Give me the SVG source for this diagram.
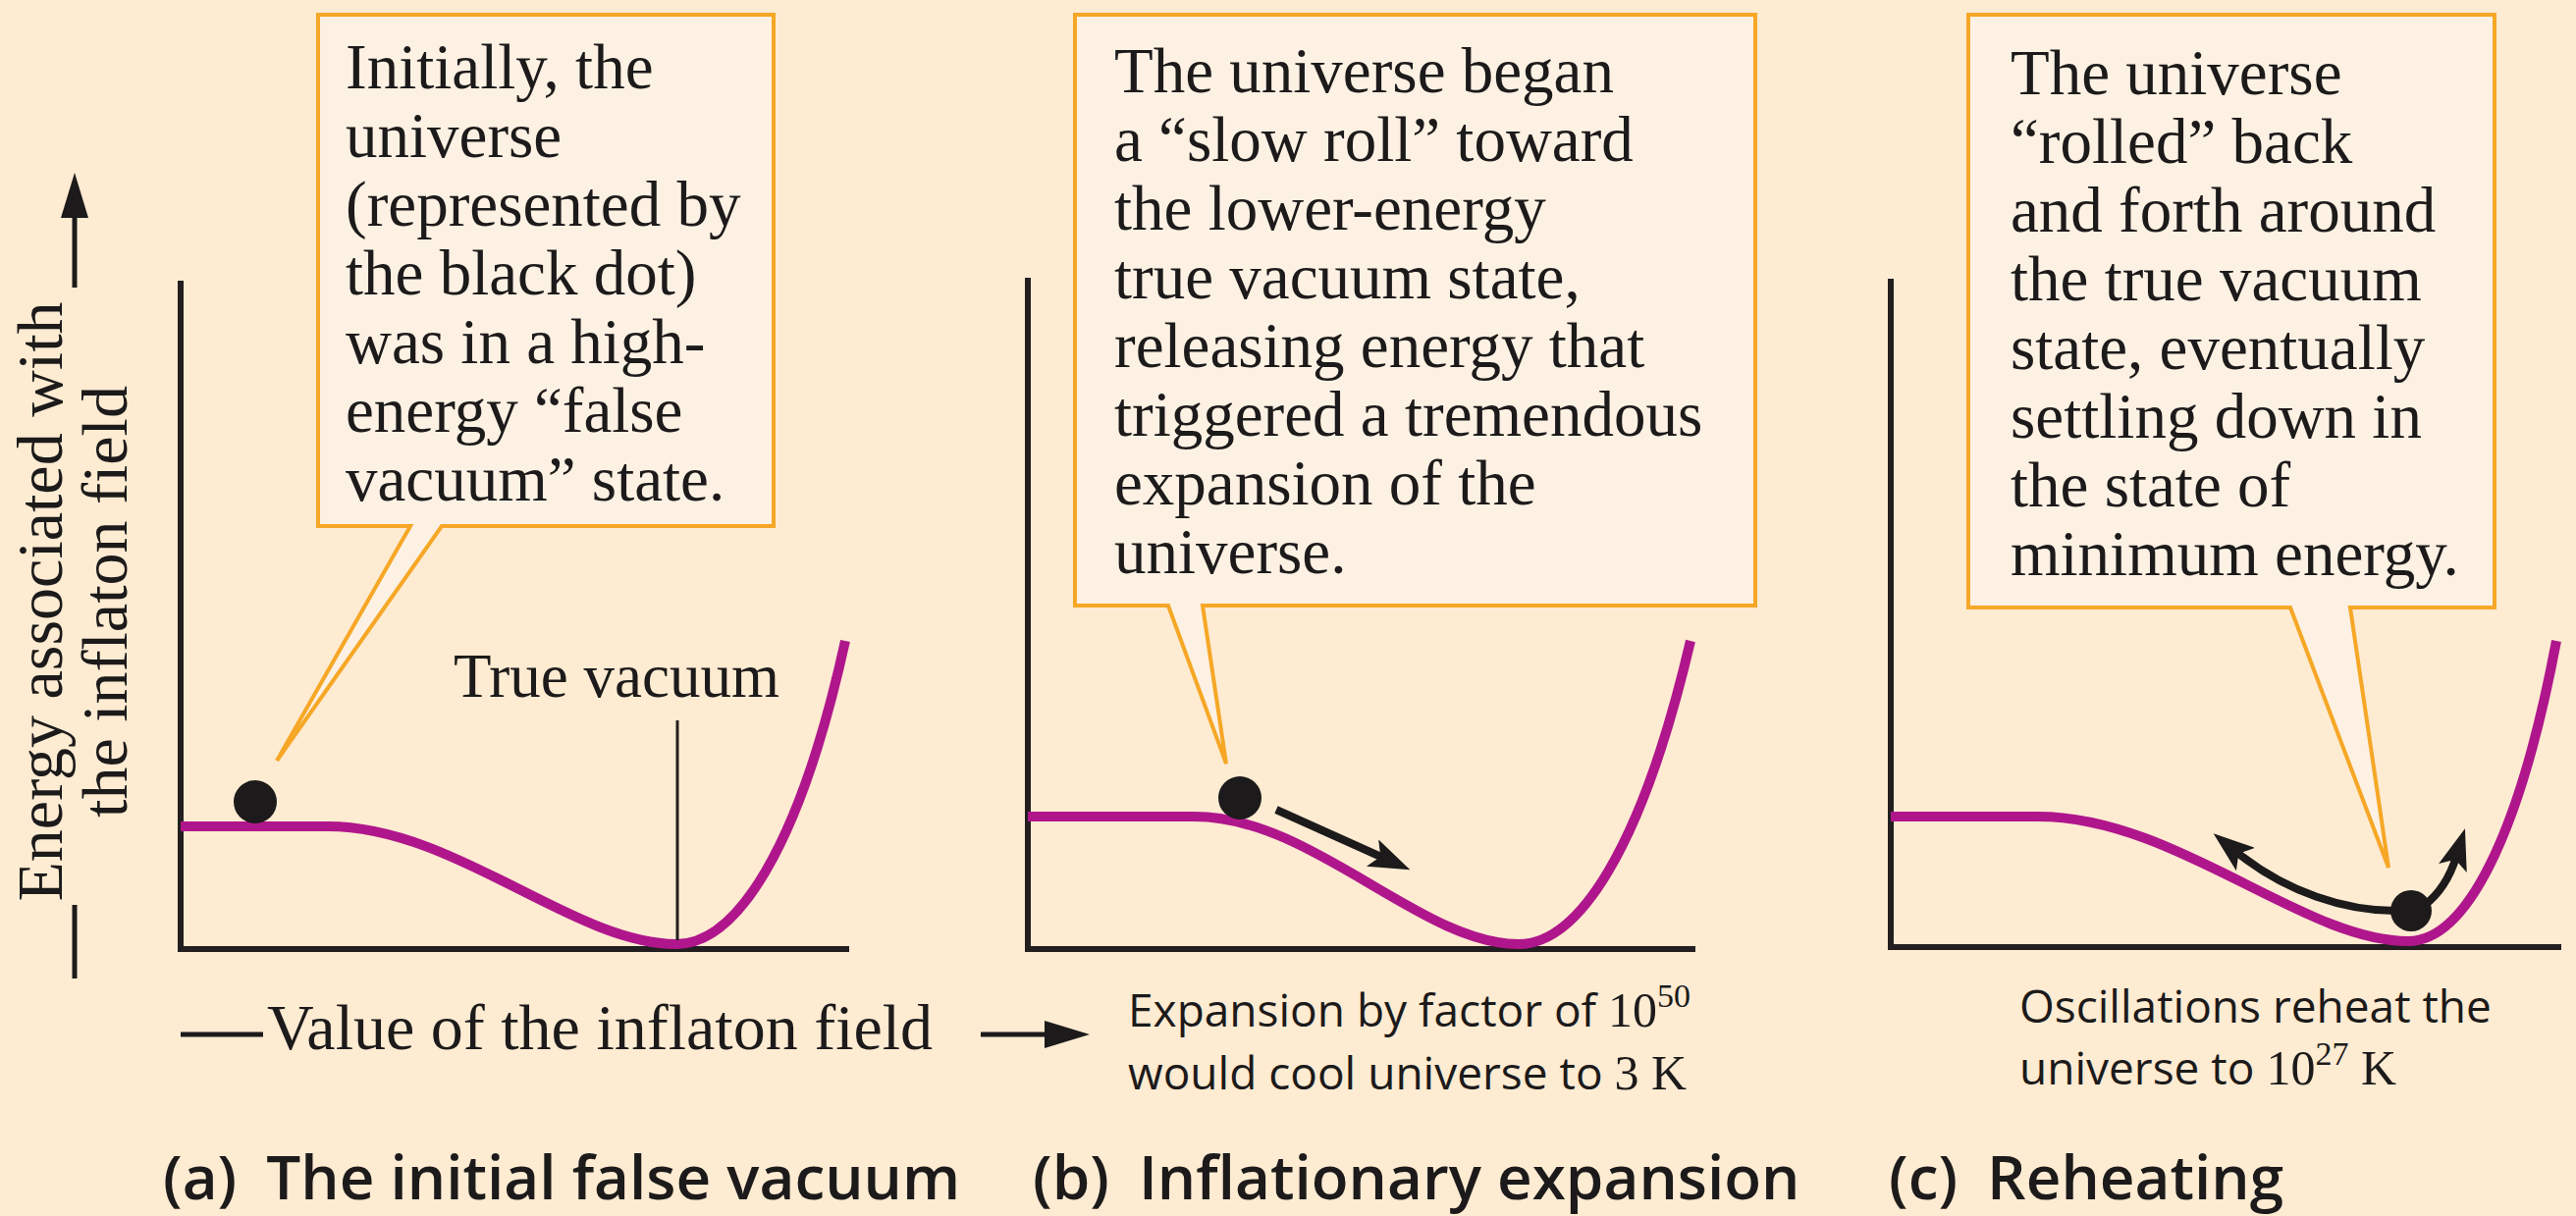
<svg xmlns="http://www.w3.org/2000/svg" width="2624" height="1239" viewBox="0 0 2624 1239">
<defs>
<style>
.bg{fill:#FDEBD2}
.box{fill:#FCF1E3;stroke:#F6A726;stroke-width:4;stroke-linejoin:miter}
.ct{font-family:"Liberation Serif","Times New Roman",serif;font-size:65px;fill:#1c1a1a}
.axis{stroke:#231f20;stroke-width:6;fill:none}
.thin{stroke:#231f20;stroke-width:3;fill:none}
.curve{stroke:#B0168C;stroke-width:10;fill:none}
.dot{fill:#1c1a1a}
.arr{stroke:#1c1a1a;stroke-width:8;fill:none}
.lbl{font-family:"Liberation Serif","Times New Roman",serif;font-size:66px;fill:#1c1a1a}
.note{font-family:"Open Sans","Liberation Sans",sans-serif;font-size:46px;fill:#1c1a1a}
.num{font-family:"Liberation Serif","Times New Roman",serif}
.cap{font-family:"Open Sans","Liberation Sans",sans-serif;font-size:62px;font-weight:600;fill:#1c1a1a}
</style>
<marker id="barb" markerUnits="userSpaceOnUse" markerWidth="42" markerHeight="30" refX="12" refY="15" orient="auto" viewBox="0 0 42 30"><path d="M0,0 L42,15 L0,30 L9,15 Z" fill="#1c1a1a"/></marker>
<marker id="tri" markerUnits="userSpaceOnUse" markerWidth="46" markerHeight="28" refX="2" refY="14" orient="auto" viewBox="0 0 46 28"><path d="M0,0 L46,14 L0,28 Z" fill="#1c1a1a"/></marker>
</defs>
<rect class="bg" x="0" y="0" width="2624" height="1239"/>

<g id="axis-labels">
<text class="lbl" text-anchor="middle" transform="translate(63,613) rotate(-90)">Energy associated with</text>
<text class="lbl" text-anchor="middle" transform="translate(129,613) rotate(-90)">the inflaton field</text>
<line class="arr" style="stroke-width:5" x1="76" y1="997" x2="76" y2="922"/>
<line class="arr" style="stroke-width:5" x1="76" y1="293" x2="76" y2="220" marker-end="url(#tri)"/>
<line class="arr" style="stroke-width:5" x1="184" y1="1054" x2="268" y2="1054"/>
<text class="lbl" x="272" y="1069">Value of the inflaton field</text>
<line class="arr" style="stroke-width:5" x1="999" y1="1054" x2="1066" y2="1054" marker-end="url(#tri)"/>
</g>

<g id="panel-a">
<g transform="translate(184,967)">
<path class="axis" d="M0,-681 V3 M-3,0 H681"/>
<path class="curve" d="M0,-125 L150,-125 C280,-125 400,-5 505,-5 C565,-5 630,-100 677,-314"/>
</g>
<line class="thin" x1="690" y1="734" x2="690" y2="958"/>
<text class="lbl" style="font-size:63px" x="462" y="710">True vacuum</text>
<circle class="dot" cx="260" cy="817" r="22"/>
</g>

<g id="callout-a">
<path class="box" d="M324,15 H788 V536 H450 L282,775 L418,536 H324 Z"/>
<text class="ct" x="352" y="90">Initially, the</text>
<text class="ct" x="352" y="160">universe</text>
<text class="ct" x="352" y="230">(represented by</text>
<text class="ct" x="352" y="300">the black dot)</text>
<text class="ct" x="352" y="370">was in a high-</text>
<text class="ct" x="352" y="440">energy “false</text>
<text class="ct" x="352" y="510">vacuum” state.</text>
</g>

<g id="panel-b">
<g transform="translate(1047,967)">
<path class="axis" d="M0,-684 V3 M-3,0 H680"/>
<path class="curve" d="M0,-135 L170,-135 C290,-135 400,-5 500,-5 C560,-5 625,-100 675,-314"/>
</g>
<circle class="dot" cx="1263" cy="813" r="22"/>
</g>

<g id="callout-b">
<path class="box" d="M1095,15 H1788 V617 H1225 L1249,778 L1190,617 H1095 Z"/>
<text class="ct" x="1135" y="94">The universe began</text>
<text class="ct" x="1135" y="164">a “slow roll” toward</text>
<text class="ct" x="1135" y="234">the lower-energy</text>
<text class="ct" x="1135" y="304">true vacuum state,</text>
<text class="ct" x="1135" y="374">releasing energy that</text>
<text class="ct" x="1135" y="444">triggered a tremendous</text>
<text class="ct" x="1135" y="514">expansion of the</text>
<text class="ct" x="1135" y="584">universe.</text>
</g>

<g id="note-b">
<text class="note" x="1149" y="1046">Expansion by factor of <tspan class="num" font-size="50">10</tspan><tspan class="num" font-size="34" dy="-20">50</tspan></text>
<text class="note" x="1149" y="1110">would cool universe to <tspan class="num" font-size="50">3 K</tspan></text>
</g>

<g id="panel-c">
<g transform="translate(1926,965)">
<path class="axis" d="M0,-681 V3 M-3,0 H683"/>
<path class="curve" d="M0,-133 L150,-133 C290,-133 420,-6 527,-6 C585,-6 640,-110 678,-312"/>
</g>
</g>

<g id="callout-c">
<path class="box" d="M2005,15 H2541 V619 H2394 L2433,884 L2333,619 H2005 Z"/>
<text class="ct" x="2048" y="96">The universe</text>
<text class="ct" x="2048" y="166">“rolled” back</text>
<text class="ct" x="2048" y="236">and forth around</text>
<text class="ct" x="2048" y="306">the true vacuum</text>
<text class="ct" x="2048" y="376">state, eventually</text>
<text class="ct" x="2048" y="446">settling down in</text>
<text class="ct" x="2048" y="516">the state of</text>
<text class="ct" x="2048" y="586">minimum energy.</text>
</g>

<g id="connectors">
<line class="arr" x1="1300" y1="825" x2="1409" y2="874" marker-end="url(#barb)"/>
<path class="arr" d="M2440,928 C2390,928 2330,910 2278,868" marker-end="url(#barb)"/>
<path class="arr" d="M2470,922 Q2492,905 2502,873" marker-end="url(#barb)"/>
</g>

<g id="dot-c">
<circle class="dot" cx="2456" cy="928" r="21"/>
</g>

<g id="note-c">
<text class="note" x="2057" y="1042">Oscillations reheat the</text>
<text class="note" x="2057" y="1105">universe to <tspan class="num" font-size="50">10</tspan><tspan class="num" font-size="34" dy="-20">27</tspan><tspan class="num" font-size="50" dy="20"> K</tspan></text>
</g>

<g id="captions">
<text class="cap" x="166" y="1222">(a)<tspan dx="30">The initial false vacuum</tspan></text>
<text class="cap" x="1052" y="1222">(b)<tspan dx="30">Inflationary expansion</tspan></text>
<text class="cap" x="1924" y="1222">(c)<tspan dx="30">Reheating</tspan></text>
</g>
</svg>
